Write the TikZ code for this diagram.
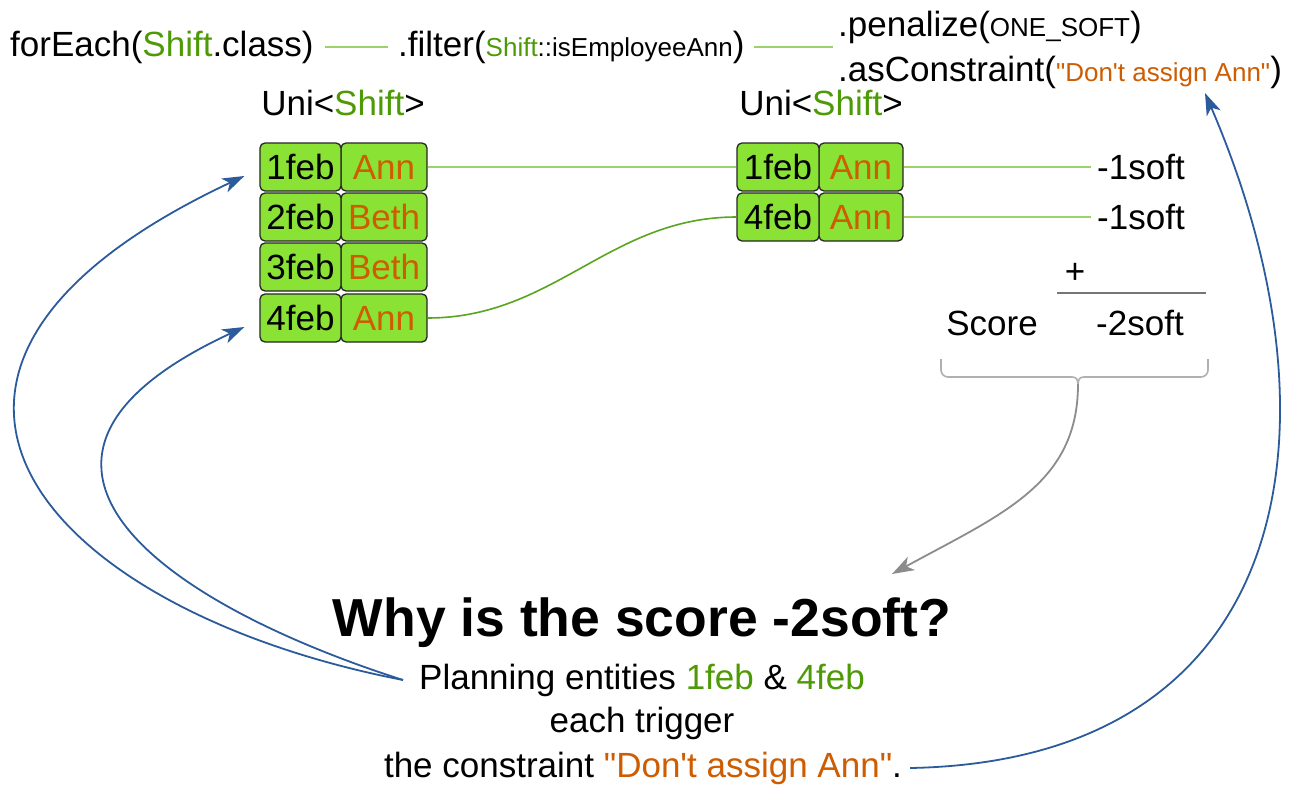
\documentclass[tikz,border=0pt]{standalone}
\usepackage{fontspec}
\setmainfont{Liberation Sans}
\usetikzlibrary{arrows.meta,calc}
\definecolor{tgreen}{HTML}{4E9A06}
\definecolor{torange}{HTML}{CE5C00}
\definecolor{boxgreen}{HTML}{8AE234}
\definecolor{lgreen}{HTML}{9BD36A}
\definecolor{dgreen}{HTML}{5AA51E}
\definecolor{tblue}{HTML}{2C5B9C}
\definecolor{bgray}{HTML}{B0B0B0}
\definecolor{agray}{HTML}{8C8C8C}
\definecolor{lgray}{HTML}{767676}
\newcommand\fsz[1]{\fontsize{#1}{#1}\selectfont}
\newcommand\dq{\textquotedbl}
\begin{document}
\begin{tikzpicture}[x=1pt,y=-1pt,
  txt/.style={inner sep=0pt, font=\fsz{35}},
  cell/.style={draw=black!85, line width=1.3pt, fill=boxgreen, rounded corners=5pt,
    minimum height=48pt, inner sep=0pt, font=\fsz{35}},
  datecell/.style={cell, minimum width=81pt},
  namecell/.style={cell, minimum width=86pt, text=torange},
  link/.style={lgreen, line width=2.5pt},
  curvelink/.style={dgreen, line width=1.6pt},
  bluearrow/.style={tblue, line width=1.8pt, -{Stealth[length=22pt,width=15pt,inset=6pt]}},
  grayarrow/.style={agray, line width=1.8pt, -{Stealth[length=22pt,width=15pt,inset=6pt]}},
  bracestyle/.style={bgray, line width=1.6pt}
]
\fill[white] (0,0) rectangle (1302,787);
\useasboundingbox (0,0) rectangle (1302,787);

% top code line
\node[txt, anchor=west] (fe) at (10,47) {forEach(\textcolor{tgreen}{Shift}.class)};
\node[txt, anchor=west] (flt) at (398,47) {.filter({\fsz{26}\textcolor{tgreen}{Shift}::isEmployeeAnn})};
\node[txt, anchor=west] (pen) at (838,27) {.penalize({\fsz{26}ONE\_SOFT})};
\node[txt, anchor=west] (asc) at (838,72) {.asConstraint({\fsz{26}\color{torange}\dq Don\textquotesingle t assign Ann\dq})};
\coordinate (pj) at (833,47);
\draw[link, line width=2pt, shorten <=11pt, shorten >=10pt] (fe.east) -- (flt.west);
\draw[link, line width=2pt, shorten <=9pt] (flt.east) -- (pj);

% headers
\node[txt] (u1) at (343,103) {Uni<\textcolor{tgreen}{Shift}>};
\node[txt] (u2) at (821,103) {Uni<\textcolor{tgreen}{Shift}>};

% left table
\node[namecell] (l1n) at (384,167) {Ann};
\node[datecell] (l1d) at (300.5,167) {1feb};
\node[namecell] (l2n) at (384,217) {Beth};
\node[datecell] (l2d) at (300.5,217) {2feb};
\node[namecell] (l3n) at (384,267) {Beth};
\node[datecell] (l3d) at (300.5,267) {3feb};
\node[namecell] (l4n) at (384,318) {Ann};
\node[datecell] (l4d) at (300.5,318) {4feb};

% right table
\node[namecell, minimum width=84pt] (r1n) at (861,167) {Ann};
\node[datecell, minimum width=82pt] (r1d) at (778,167) {1feb};
\node[namecell, minimum width=84pt] (r2n) at (861,217) {Ann};
\node[datecell, minimum width=82pt] (r2d) at (778,217) {4feb};

\draw[link] (l1n.east) -- (r1d.west);
\draw[curvelink] (l4n.east) to[out=0,in=180] (r2d.west);

% scores
\node[txt, anchor=west] (s1) at (1097,167) {-1soft};
\node[txt, anchor=west] (s2) at (1097,217) {-1soft};
\draw[link, shorten >=6pt] (r1n.east) -- (s1.west);
\draw[link, shorten >=6pt] (r2n.east) -- (s2.west);

\node[txt] (plus) at (1075,273) {+};
\draw[lgray, line width=2.5pt] (1057,293) -- (1206,293);
\node[txt] (score) at (992,323) {Score};
\node[txt] (tot) at (1140,323) {-2soft};

% brace
\draw[bracestyle, rounded corners=7pt] (941,359) -- (941,377) -- (1072,377);
\draw[bracestyle, rounded corners=7pt] (1208,359) -- (1208,377) -- (1084,377);
\draw[bracestyle] (1072,377) .. controls (1076,377) and (1078,379) .. (1078,385)
  .. controls (1078,379) and (1080,377) .. (1084,377);
\coordinate (bt) at (1078,384);
\coordinate (gtip) at (892,574);
\draw[grayarrow] (bt) .. controls +(0,100) and +(110,-60) .. (gtip);

% bottom text
\node[inner sep=0pt, font=\bfseries\fsz{53.5}] (title) at (642,623) {Why is the score -2soft?};
\node[txt] (plan) at (642,680) {Planning entities \textcolor{tgreen}{1feb} \& \textcolor{tgreen}{4feb}};
\node[txt] (each) at (642,723) {each trigger};
\node[txt] (cons) at (643,768) {the constraint \textcolor{torange}{\dq Don\textquotesingle t assign Ann\dq}.};

% blue arrows
\coordinate (anntip) at (1205,93);
\draw[bluearrow] ([xshift=-16pt]plan.west) .. controls +(-360,-70) and +(-415,195) .. ([xshift=-15pt,yshift=-9pt]l1d.west);
\draw[bluearrow] ([xshift=-16pt]plan.west) .. controls +(-250,-80) and +(-280,130) .. ([xshift=-15pt,yshift=-9pt]l4d.west);
\draw[bluearrow] ([xshift=8pt]cons.east) .. controls +(383,-7) and +(145,337) .. (anntip);
\end{tikzpicture}
\end{document}
